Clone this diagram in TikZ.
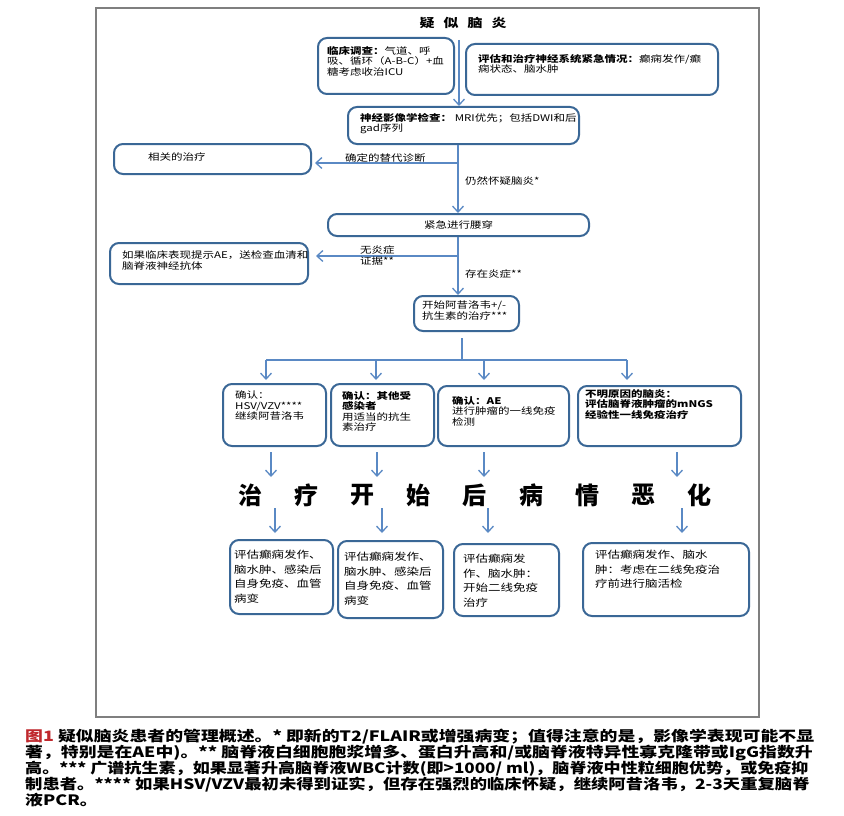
\documentclass[tikz,border=0pt]{standalone}
\usepackage{graphicx}
\usepackage{fontspec}
\setmainfont[FakeStretch=1.25]{Noto Sans CJK SC}
\newfontfamily\bigcjk{Noto Sans CJK SC}
\usetikzlibrary{arrows.meta}
\definecolor{boxblue}{HTML}{3A6796}
\definecolor{arrblue}{HTML}{5A89C4}
\definecolor{framegray}{HTML}{7F7F7F}
\definecolor{figred}{HTML}{C0282D}
\tikzset{
  box/.style={draw=boxblue,line width=2pt,rounded corners=9pt,inner sep=0pt,anchor=north west},
  txt/.style={anchor=north west,inner sep=0pt,align=left,font=\fontsize{9.2}{10.5}\selectfont},
  lowtxt/.style={anchor=north west,inner sep=0pt,align=left,font=\fontsize{10}{14.5}\selectfont},
  flow/.style={draw=arrblue,line width=1.3pt},
  arr/.style={flow,-{Straight Barb[length=6pt,width=11pt]}},
}
\begin{document}
\begin{tikzpicture}[x=1pt,y=-1pt]
    \useasboundingbox[fill=white] (0,0) rectangle (844,816);
    \draw[framegray,line width=2pt] (96,8) rectangle (759,717);

    % title and first row
    \node[font=\bfseries\fontsize{12}{14}\selectfont] (title) at (463,23) {疑\hspace{9pt}似\hspace{9pt}脑\hspace{9pt}炎};
    \node[box,minimum width=136,minimum height=56] (clin) at (317,37) {};
    \node[txt] (clin-t) at (327,46) {\textbf{临床调查：}气道、呼\\吸、循环（A-B-C）+血\\糖考虑收治ICU};
    \node[box,minimum width=252,minimum height=51] (emerg) at (465,43) {};
    \node[txt] (emerg-t) at (478,54) {\textbf{评估和治疗神经系统紧急情况：}癫痫发作/癫\\痫状态、脑水肿};
    \node[box,minimum width=231,minimum height=37] (imaging) at (347,106) {};
    \node[txt] (imaging-t) at (360,113) {\textbf{神经影像学检查：} MRI优先；包括DWI和后\\gad序列};
    \coordinate (s0) at (459,40);
    \draw[arr] (s0) -- (s0 |- imaging.north);

    % alternative diagnosis
    \node[box,minimum width=197,minimum height=30] (related) at (113,143) {};
    \node[txt] (related-t) at (148,153) {相关的治疗};
    \node[box,minimum width=261,minimum height=22,font=\fontsize{9.2}{10.5}\selectfont] (lumbar) at (327,213) {紧急进行腰穿};
    \coordinate (s1) at (458,163);
    \draw[arr] (imaging.south -| s1) -- (s1 |- lumbar.north);
    \draw[arr,shorten >=3pt] (s1) -- (s1 -| related.east);
    \node[txt] (alt) at (345,154) {确定的替代诊断};
    \node[txt] (still) at (465,176) {仍然怀疑脑炎*};

    % inflammation
    \node[box,minimum width=198,minimum height=41] (ae) at (109,242) {};
    \node[txt] (ae-t) at (122,251) {如果临床表现提示AE，送检查血清和\\脑脊液神经抗体};
    \node[box,minimum width=105,minimum height=35] (acyc) at (413,295) {};
    \node[txt] (acyc-t) at (422,301) {开始阿昔洛韦+/-\\抗生素的治疗***};
    \coordinate (s2) at (458,256);
    \draw[arr] (lumbar.south -| s2) -- (s2 |- acyc.north);
    \draw[arr,shorten >=7pt] (s2) -- (s2 -| ae.east);
    \node[txt] (noinfl) at (360,246) {无炎症\\证据**};
    \node[txt] (infl) at (465,270) {存在炎症**};

    % four branches
    \node[box,minimum width=103,minimum height=62] (hsv) at (222,383) {};
    \node[txt] (hsv-t) at (235,391) {确认：\\HSV/VZV****\\继续阿昔洛韦};
    \node[box,minimum width=103,minimum height=62] (infect) at (330,383) {};
    \node[txt] (infect-t) at (342,391) {\textbf{确认：其他受}\\\textbf{感染者}\\用适当的抗生\\素治疗};
    \node[box,minimum width=131,minimum height=60] (aeconf) at (437,385) {};
    \node[txt] (aeconf-t) at (452,396) {\textbf{确认：AE}\\进行肿瘤的一线免疫\\检测};
    \node[box,minimum width=163,minimum height=60] (unknown) at (577,385) {};
    \node[txt,font=\bfseries\fontsize{9.2}{10.5}\selectfont] (unknown-t) at (585,389) {不明原因的脑炎：\\评估脑脊液肿瘤的mNGS\\经验性一线免疫治疗};
    \coordinate (s3) at (462,338);
    \coordinate (s4) at (462,360);
    \draw[flow] (s3) -- (s4);
    \coordinate (d1) at (266,360);
    \coordinate (d2) at (376,360);
    \coordinate (d3) at (484,360);
    \coordinate (d4) at (627,360);
    \draw[flow] (d1) -- (d4);
    \draw[arr,shorten >=3pt] (d1) -- (d1 |- hsv.north);
    \draw[arr,shorten >=3pt] (d2) -- (d2 |- infect.north);
    \draw[arr,shorten >=5pt] (d3) -- (d3 |- aeconf.north);
    \draw[arr,shorten >=5pt] (d4) -- (d4 |- unknown.north);

    % worsening
    \foreach \x [count=\i] in {271,377,484,677}
        \draw[arr] (\x,452) -- (\x,477);
    \foreach \c [count=\i] in {治,疗,开,始,后,病,情,恶,化}
        \node[font=\bigcjk\bfseries\fontsize{24}{24}\selectfont] (w\i) at ({250+56.2*(\i-1)},495) {\c};
    \foreach \x [count=\i] in {275,382,488,682}
        \draw[arr] (\x,508) -- (\x,533);

    \node[box,minimum width=103,minimum height=74] (h1) at (229,539) {};
    \node[lowtxt] (h1-t) at (234,550) {评估癫痫发作、\\脑水肿、感染后\\自身免疫、血管\\病变};
    \node[box,minimum width=105,minimum height=77] (h2) at (337,540) {};
    \node[lowtxt] (h2-t) at (344,552) {评估癫痫发作、\\脑水肿、感染后\\自身免疫、血管\\病变};
    \node[box,minimum width=105,minimum height=72] (h3) at (453,543) {};
    \node[lowtxt] (h3-t) at (463,554) {评估癫痫发\\作、脑水肿：\\开始二线免疫\\治疗};
    \node[box,minimum width=166,minimum height=73] (h4) at (582,542) {};
    \node[lowtxt] (h4-t) at (595,550) {评估癫痫发作、脑水\\肿：考虑在二线免疫治\\疗前进行脑活检};

    % caption
    \node[anchor=north west,inner sep=0pt,align=left,font=\bfseries\fontsize{14.3}{16}\selectfont] (caption) at (25,729) {\textcolor{figred}{图1} 疑似脑炎患者的管理概述。* 即新的T2/FLAIR或增强病变；值得注意的是，影像学表现可能不显\\著，特别是在AE中)。** 脑脊液白细胞胞浆增多、蛋白升高和/或脑脊液特异性寡克隆带或IgG指数升\\\scalebox{0.955}[1]{高。*** 广谱抗生素，如果显著升高脑脊液WBC计数(即>1000/ ml)，脑脊液中性粒细胞优势，或免疫抑}\\\scalebox{0.97}[1]{制患者。**** 如果HSV/VZV最初未得到证实，但存在强烈的临床怀疑，继续阿昔洛韦，2-3天重复脑脊}\\液PCR。};
\end{tikzpicture}
\end{document}
